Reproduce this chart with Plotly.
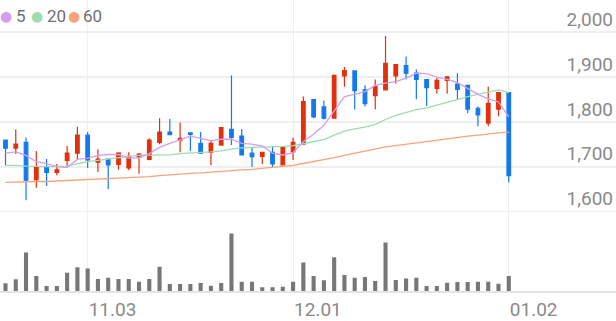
import plotly.graph_objects as go

dates = ["10.22","10.23","10.24","10.27","10.28","10.29","10.30","10.31",
         "11.03","11.04","11.05","11.06","11.07","11.10","11.11","11.12","11.13","11.14",
         "11.17","11.18","11.19","11.20","11.21","11.24","11.25","11.26","11.27","11.28",
         "12.01","12.02","12.03","12.04","12.05","12.08","12.09","12.10","12.11","12.12",
         "12.15","12.16","12.17","12.18","12.19","12.22","12.23","12.24","12.26","12.29",
         "12.30","01.02"]

opens  = [1760,1742,1755,1672,1701,1688,1715,1731,1771,1711,1718,1706,1698,1722,1717,1755,
          1778,1760,1776,1753,1733,1749,1784,1769,1731,1724,1733,1705,1734,1751,1850,1834,
          1809,1903,1914,1872,1859,1872,1903,1926,1909,1895,1875,1893,1885,1882,1831,1798,
          1829,1866]
highs  = [1760,1784,1766,1736,1718,1707,1747,1790,1778,1740,1718,1733,1733,1731,1764,1809,
          1807,1799,1776,1778,1758,1788,1904,1785,1744,1734,1747,1746,1766,1857,1851,1848,
          1904,1923,1915,1882,1895,1992,1928,1946,1917,1895,1899,1902,1909,1882,1835,1879,
          1866,1866]
lows   = [1704,1729,1626,1654,1658,1682,1700,1716,1698,1689,1651,1694,1693,1685,1715,1751,
          1771,1733,1736,1731,1704,1749,1749,1727,1700,1707,1700,1704,1716,1751,1809,1806,
          1809,1879,1828,1835,1829,1872,1886,1895,1851,1836,1863,1863,1850,1820,1791,1791,
          1813,1666]
closes = [1742,1751,1671,1701,1688,1694,1731,1771,1716,1718,1705,1731,1724,1729,1760,1778,
          1772,1764,1773,1731,1753,1788,1766,1727,1723,1733,1707,1744,1755,1846,1812,1809,
          1904,1915,1870,1841,1880,1931,1928,1909,1895,1877,1893,1901,1873,1829,1816,1842,
          1866,1681]
volume = [24000,36000,117000,46000,16000,16000,56000,73000,69000,37000,41000,37000,37000,
          29000,37000,74000,22000,22000,22000,25000,17000,25000,175000,29000,29000,12000,
          12000,14000,29000,87000,46000,33000,103000,49000,41000,43000,31000,148000,34000,
          39000,41000,16000,16000,26000,28000,28000,29000,29000,23000,46000]

ma5  = [1731,1734,1726,1712,1708,1701,1699,1717,1720,1726,1728,1728,1720,1721,1730,1744,
        1753,1761,1769,1764,1759,1762,1762,1753,1751,1747,1731,1727,1732,1757,1773,1793,
        1825,1857,1862,1868,1882,1887,1890,1898,1909,1908,1900,1895,1888,1875,1862,1852,
        1845,1812]
ma20 = [1704,1704,1702,1701,1701,1701,1702,1707,1712,1715,1718,1722,1724,1726,1726,1726,
        1727,1730,1732,1733,1734,1736,1740,1743,1744,1744,1745,1746,1748,1752,1757,1761,
        1771,1780,1785,1789,1795,1806,1815,1822,1828,1832,1838,1843,1850,1857,1862,1868,
        1872,1866]
ma60 = [1666,1667,1667,1668,1668,1669,1670,1671,1672,1673,1674,1675,1676,1677,1679,1681,
        1683,1684,1686,1687,1689,1690,1692,1694,1695,1697,1699,1701,1704,1708,1712,1716,
        1721,1726,1731,1736,1741,1745,1748,1751,1754,1757,1760,1764,1767,1769,1771,1774,
        1776,1778]

tick_dates = ["11.03", "12.01", "01.02"]
price_ticks = [1600, 1700, 1800, 1900, 2000]
price_labels = ["1,600", "1,700", "1,800", "1,900", "2,000"]
legend_names = ["5", "20", "60"]

RED = "#e3300c"
BLUE = "#1479ee"
C5, C20, C60 = "#d59cf0", "#9edcae", "#f7a47c"
GRID = "#efefef"
TXT = "#8a8a8a"

fig = go.Figure()
for ma, col in [(ma60, C60), (ma20, C20), (ma5, C5)]:
    fig.add_trace(go.Scatter(x=dates, y=ma, mode="lines", line=dict(color=col, width=1.3),
                             hoverinfo="skip", xaxis="x", yaxis="y"))
fig.add_trace(go.Candlestick(
    x=dates, open=opens, high=highs, low=lows, close=closes,
    increasing=dict(line=dict(color=RED, width=1.2), fillcolor=RED),
    decreasing=dict(line=dict(color=BLUE, width=1.2), fillcolor=BLUE),
    whiskerwidth=0, hoverinfo="skip", xaxis="x", yaxis="y"))
fig.add_trace(go.Bar(x=dates, y=volume, marker=dict(color="#777777", line=dict(width=0)),
                     width=0.4, hoverinfo="skip", xaxis="x", yaxis="y2"))

W, H = 616, 321
anns = []
dot_centers = [6, 37, 74]
text_lefts = [13.5, 45, 81]
for name, col, dc, tl in zip(legend_names, [C5, C20, C60], dot_centers, text_lefts):
    anns.append(dict(xref="paper", yref="paper", x=dc / W, y=1 - 16 / H,
                     xanchor="center", yanchor="middle", showarrow=False, text="●",
                     font=dict(family="DejaVu Sans", size=14, color=col)))
    anns.append(dict(xref="paper", yref="paper", x=tl / W, y=1 - 16.5 / H,
                     xanchor="left", yanchor="middle", showarrow=False, text=name,
                     font=dict(family="Roboto", size=17, color="#6f6f6f")))

fig.update_layout(
    width=W, height=H, margin=dict(l=0, r=0, t=0, b=0),
    paper_bgcolor="white", plot_bgcolor="white", showlegend=False,
    boxgap=0.5,
    font=dict(family="Roboto", color=TXT),
    xaxis=dict(type="category", range=[-0.535, 59.44], anchor="y2",
               tickmode="array", tickvals=tick_dates, ticktext=tick_dates,
               showgrid=True, gridcolor=GRID, gridwidth=1,
               showline=True, linecolor="#e3e3e3", linewidth=2,
               ticks="", ticklabelposition="outside right",
               tickfont=dict(family="Roboto", size=19, color=TXT),
               rangeslider=dict(visible=False), zeroline=False, fixedrange=True),
    yaxis=dict(domain=[0.327, 1], range=[1595.6, 2071.9], side="right",
               tickmode="array", tickvals=price_ticks, ticktext=price_labels,
               showgrid=True, gridcolor=GRID, gridwidth=1.5, zeroline=False,
               ticks="", ticklabelposition="inside top",
               tickfont=dict(family="Roboto", size=19, color=TXT)),
    yaxis2=dict(domain=[0.0841, 0.3333], range=[0, 240000], showgrid=False,
                showticklabels=False, zeroline=False),
    annotations=anns,
)

fig.write_html("out.html")
